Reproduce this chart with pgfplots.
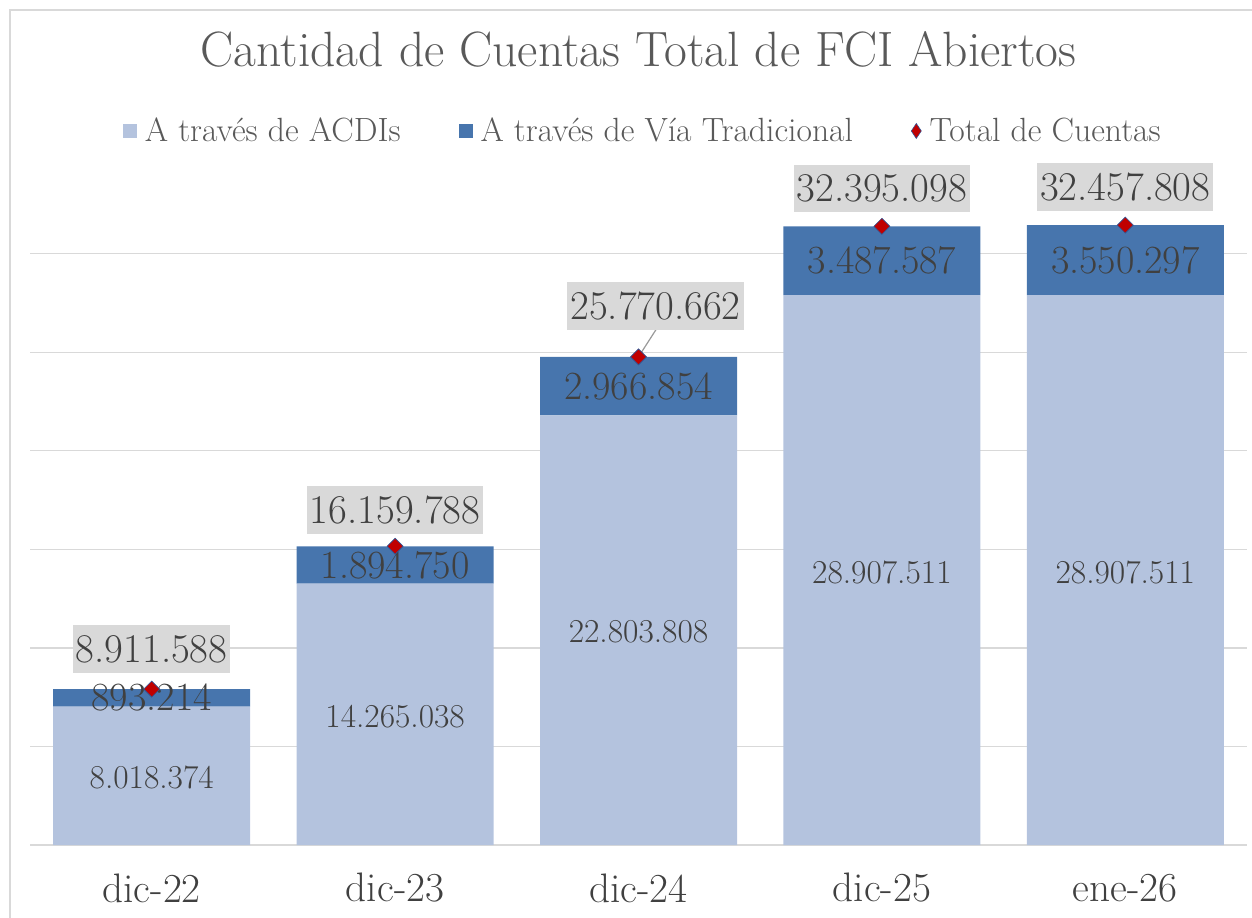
\documentclass[border=0pt]{standalone}
\usepackage{pgfplots}
\pgfplotsset{compat=1.18}
\usepackage{pgfplotstable}

\definecolor{cLight}{HTML}{B4C3DE}
\definecolor{cDark}{HTML}{4775AD}
\definecolor{cRed}{HTML}{C00000}
\definecolor{cEdge}{HTML}{2F5597}
\definecolor{cGrid}{HTML}{D9D9D9}
\definecolor{cBox}{HTML}{D9D9D9}
\definecolor{cText}{HTML}{404040}
\definecolor{cTitle}{HTML}{595959}

\pgfplotstableread{
x acdi trad total acdil tradl totall dx dy
0 8018374 893214 8911588 8.018.374 893.214 8.911.588 0 20
1 14265038 1894750 16159788 14.265.038 1.894.750 16.159.788 0 18
2 22803808 2966854 25770662 22.803.808 2.966.854 25.770.662 8.5 25.5
3 28907511 3487587 32395098 28.907.511 3.487.587 32.395.098 0 19
4 28907511 3550297 32457808 28.907.511 3.550.297 32.457.808 0 19
}\datos

\pgfplotsset{
  base/.style={
    scale only axis,
    width=608.5pt, height=335pt,
    at={(0,0)}, anchor=south west,
    xmin=-0.5, xmax=4.5,
    ymin=1000000, ymax=35000000,
  },
}

\begin{document}
\begin{tikzpicture}
\useasboundingbox (-15pt,-36pt) rectangle (611pt,422.5pt);
\draw[cGrid, line width=1pt] (-10pt,-80pt) rectangle (640pt,417.5pt);

\begin{axis}[
  base,
  ybar stacked,
  bar width=98.5pt,
  axis lines*=left,
  y axis line style={draw=none},
  x axis line style={cGrid, line width=0.8pt},
  ytick={1000000,6000000,...,31000000},
  yticklabels={},
  scaled y ticks=false,
  ymajorgrids,
  major grid style={cGrid, line width=0.6pt},
  tick style={draw=none},
  xtick={0,1,2,3,4},
  xticklabels={dic-22,dic-23,dic-24,dic-25,ene-26},
  xticklabel style={anchor=center, yshift=-21.5pt, text=cText,
    font=\fontsize{20.6}{24}\selectfont},
  title={Cantidad de Cuentas Total de FCI Abiertos},
  title style={at={(0.5,1.170)}, anchor=center, text=cTitle,
    font=\fontsize{24.8}{30}\selectfont},
  legend columns=3,
  legend style={at={(0.5035,1.0657)}, anchor=center, draw=none, fill=none,
    text=cTitle, font=\fontsize{16.8}{20}\selectfont,
    nodes={inner xsep=1pt},
    /tikz/every odd column/.append style={column sep=3pt},
    /tikz/every even column/.append style={column sep=28pt}},
  legend cell align=left,
]
% segment labels: pgfplots centres them in each stacked segment;
% the light one is moved up to the centre of its visible part (axis starts at 1M)
\addplot[fill=cLight, draw=none,
  legend image code/.code={\fill[cLight] (0pt,-3.5pt) rectangle (7pt,3.5pt);},
  nodes near coords, point meta=explicit symbolic,
  every node near coord/.append style={anchor=center,
    shift={(axis direction cs:0,400000)},
    text=cText, font=\fontsize{16.7}{20}\selectfont},
] table[x=x, y=acdi, meta=acdil] {\datos};
\addlegendentry{A través de ACDIs}

\addplot[fill=cDark, draw=none,
  legend image code/.code={\fill[cDark] (0pt,-3.5pt) rectangle (7pt,3.5pt);},
  nodes near coords, point meta=explicit symbolic,
  every node near coord/.append style={anchor=center,
    text=cText, font=\fontsize{20}{24}\selectfont},
] table[x=x, y=trad, meta=tradl] {\datos};
\addlegendentry{A través de Vía Tradicional}

\addlegendimage{legend image code/.code={
  \draw[fill=cRed, draw=cEdge, line width=0.3pt]
    (2.5pt,-3.75pt) -- (5pt,0pt) -- (2.5pt,3.75pt) -- (0pt,0pt) -- cycle;}}
\addlegendentry{Total de Cuentas}
\end{axis}

\begin{axis}[
  base,
  hide axis,
  clip=false,
]
\draw[gray!80, line width=0.6pt] (axis cs:2,25770662) -- ++(9pt,14pt);
\addplot[only marks, mark=square*,
  mark options={rotate=45, fill=cRed, draw=cEdge, line width=0.3pt},
  mark size=2.83pt,
  nodes near coords, point meta=explicit symbolic,
  visualization depends on={\thisrow{dx} \as \ddx},
  visualization depends on={\thisrow{dy} \as \ddy},
  every node near coord/.append style={anchor=center,
    xshift=\ddx pt, yshift=\ddy pt,
    fill=cBox, inner xsep=1.5pt, inner ysep=5pt,
    text=cText, font=\fontsize{20.4}{24}\selectfont},
] table[x=x, y=total, meta=totall] {\datos};
\end{axis}
\end{tikzpicture}
\end{document}
